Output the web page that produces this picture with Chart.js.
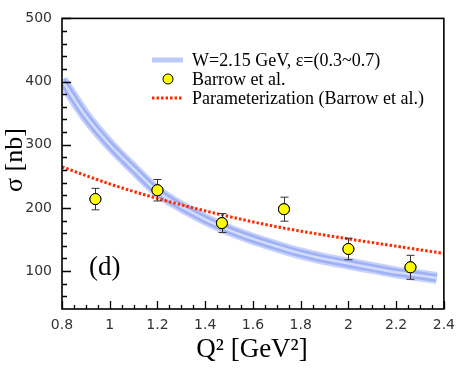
<!DOCTYPE html>
<html><head><meta charset="utf-8">
<script src="https://cdn.jsdelivr.net/npm/chart.js@4/dist/chart.umd.min.js"></script>
<style>html,body{margin:0;padding:0;background:#fff}#wrap{width:463px;height:371px}</style>
</head><body><div id="wrap"><canvas id="c" width="463" height="371"></canvas></div>
<script>
// Band (model curve)
const bandQ2 = [0.8, 0.9, 1.0, 1.1, 1.2, 1.3, 1.4, 1.5, 1.6, 1.7, 1.8, 1.9, 2.0, 2.1, 2.2, 2.3, 2.37];
const bandSigma = [402, 345, 300, 262, 226, 202, 182, 165, 151, 139, 128, 119, 112, 105, 98, 93, 89];
// Barrow et al. data points
const dataQ2 = [0.94, 1.2, 1.47, 1.73, 2.0, 2.26];
const dataSigma = [214, 228, 176, 198, 135, 106];
const dataErr = [17, 17, 15, 19, 17, 19];
// Parameterization (Barrow et al.)
const paramQ2 = [0.8, 1.0, 1.2, 1.47, 1.73, 2.0, 2.26, 2.4];
const paramSigma = [265, 238, 215, 189, 168, 151, 136, 128];
// Tick labels
const xTicks = [0.8, 1.0, 1.2, 1.4, 1.6, 1.8, 2.0, 2.2, 2.4];
const yTicks = [100, 200, 300, 400, 500];
const legendLabels = ['W=2.15 GeV, \u03b5=(0.3~0.7)', 'Barrow et al.', 'Parameterization (Barrow et al.)'];

const pts = (xs, ys) => xs.map((x, i) => ({x, y: ys[i]}));

const overlay = {
  id: 'overlay',
  afterDatasetsDraw(chart) {
    const ctx = chart.ctx, a = chart.chartArea;
    const xs = chart.scales.x, ys = chart.scales.y;
    ctx.save();
    // error bars
    ctx.strokeStyle = '#333'; ctx.lineWidth = 1;
    dataQ2.forEach((q, i) => {
      const px = Math.round(xs.getPixelForValue(q)) + 0.5;
      const t = ys.getPixelForValue(dataSigma[i] + dataErr[i]);
      const b = ys.getPixelForValue(dataSigma[i] - dataErr[i]);
      ctx.beginPath();
      ctx.moveTo(px, t); ctx.lineTo(px, b);
      ctx.moveTo(px - 4, t); ctx.lineTo(px + 4, t);
      ctx.moveTo(px - 4, b); ctx.lineTo(px + 4, b);
      ctx.stroke();
    });
    // redraw points over error bars
    const meta = chart.getDatasetMeta(1);
    meta.data.forEach(el => {
      ctx.beginPath();
      ctx.arc(el.x, el.y, 5.5, 0, Math.PI * 2);
      ctx.fillStyle = '#ffff00'; ctx.fill();
      ctx.strokeStyle = '#000'; ctx.lineWidth = 1; ctx.stroke();
    });
    // frame
    ctx.strokeStyle = '#000'; ctx.lineWidth = 1.6;
    ctx.strokeRect(a.left, a.top, a.right - a.left, a.bottom - a.top);
    // ticks (inward)
    ctx.lineWidth = 1.3;
    ctx.beginPath();
    for (let v = 0.8; v <= 2.4001; v += 0.05) {
      const p = Math.round(xs.getPixelForValue(v)) + 0.5;
      const major = Math.abs(v * 5 - Math.round(v * 5)) < 1e-6;
      ctx.moveTo(p, a.bottom); ctx.lineTo(p, a.bottom - (major ? 8 : 4));
    }
    for (let v = 60; v <= 500; v += 20) {
      const p = Math.round(ys.getPixelForValue(v)) + 0.5;
      const major = v % 100 === 0;
      ctx.moveTo(a.left, p); ctx.lineTo(a.left + (major ? 9 : 5), p);
    }
    ctx.stroke();
    // axis titles
    ctx.fillStyle = '#000';
    ctx.font = '27px "Liberation Serif", "Times New Roman", serif';
    ctx.textAlign = 'center'; ctx.textBaseline = 'alphabetic';
    ctx.fillText('Q\u00b2 [GeV\u00b2]', 252, 357);
    ctx.save();
    ctx.translate(22, 160); ctx.rotate(-Math.PI / 2);
    ctx.font = '26px "Liberation Serif", "Times New Roman", serif';
    ctx.fillText('\u03c3 [nb]', 0, 0);
    ctx.restore();
    // (d)
    ctx.textAlign = 'left';
    ctx.font = '27px "Liberation Serif", "Times New Roman", serif';
    ctx.fillText('(d)', 89, 275);
    // legend
    ctx.font = '18px "Liberation Serif", "Times New Roman", serif';
    ctx.textBaseline = 'middle';
    const lx0 = 152, lx1 = 183, tx = 192, rows = [60, 79, 98];
    ctx.lineCap = 'butt';
    ctx.strokeStyle = '#bccaf8'; ctx.lineWidth = 5;
    ctx.beginPath(); ctx.moveTo(lx0, rows[0]); ctx.lineTo(lx1, rows[0]); ctx.stroke();
    ctx.beginPath(); ctx.arc(168, rows[1], 5, 0, Math.PI * 2);
    ctx.fillStyle = '#ffff00'; ctx.fill(); ctx.strokeStyle = '#000'; ctx.lineWidth = 1; ctx.stroke();
    ctx.strokeStyle = '#ff2a00'; ctx.lineWidth = 3; ctx.setLineDash([2.5, 2]);
    ctx.beginPath(); ctx.moveTo(lx0, rows[2]); ctx.lineTo(lx1, rows[2]); ctx.stroke();
    ctx.setLineDash([]);
    ctx.fillStyle = '#000';
    legendLabels.forEach((t, i) => ctx.fillText(t, tx, rows[i] + 1));
    ctx.restore();
  }
};

new Chart(document.getElementById('c'), {
  type: 'line',
  data: {
    datasets: [
      {data: pts(paramQ2, paramSigma), borderColor: '#ff2a00', borderWidth: 3, borderDash: [2.5, 2], pointRadius: 0, cubicInterpolationMode: 'monotone', fill: false},
      {data: pts(dataQ2, dataSigma), showLine: false, pointRadius: 5.5, pointBackgroundColor: '#ffff00', pointBorderColor: '#000', pointBorderWidth: 1},
      {data: pts(bandQ2, bandSigma), borderColor: 'rgb(212,220,252)', borderWidth: 2.5, pointRadius: 0, cubicInterpolationMode: 'monotone', fill: false},
      {data: pts(bandQ2, bandSigma), borderColor: 'rgb(160,178,246)', borderWidth: 8, pointRadius: 0, cubicInterpolationMode: 'monotone', fill: false},
      {data: pts(bandQ2, bandSigma), borderColor: 'rgb(200,210,250)', borderWidth: 12, pointRadius: 0, cubicInterpolationMode: 'monotone', fill: false}
    ]
  },
  options: {
    responsive: false, animation: false, events: [],
    layout: {padding: {left: 0, right: 15, top: 8, bottom: 0}},
    plugins: {legend: {display: false}, tooltip: {enabled: false}},
    scales: {
      x: {
        type: 'linear', min: 0.8, max: 2.4,
        afterBuildTicks: s => { s.ticks = xTicks.map(v => ({value: v})); },
        afterFit: s => { s.height = 62; },
        grid: {display: false, drawTicks: false}, border: {display: false},
        ticks: {padding: 8, color: '#333', font: {family: '"DejaVu Sans"', size: 14},
          callback: v => (Math.abs(v - Math.round(v)) < 1e-9 ? String(Math.round(v)) : String(+v.toFixed(1)))}
      },
      y: {
        type: 'linear', min: 40, max: 500,
        afterBuildTicks: s => { s.ticks = yTicks.map(v => ({value: v})); },
        afterFit: s => { s.width = 62; },
        grid: {display: false, drawTicks: false}, border: {display: false},
        ticks: {padding: 10, color: '#333', font: {family: '"DejaVu Sans"', size: 14}}
      }
    }
  },
  plugins: [overlay]
});
</script></body></html>
